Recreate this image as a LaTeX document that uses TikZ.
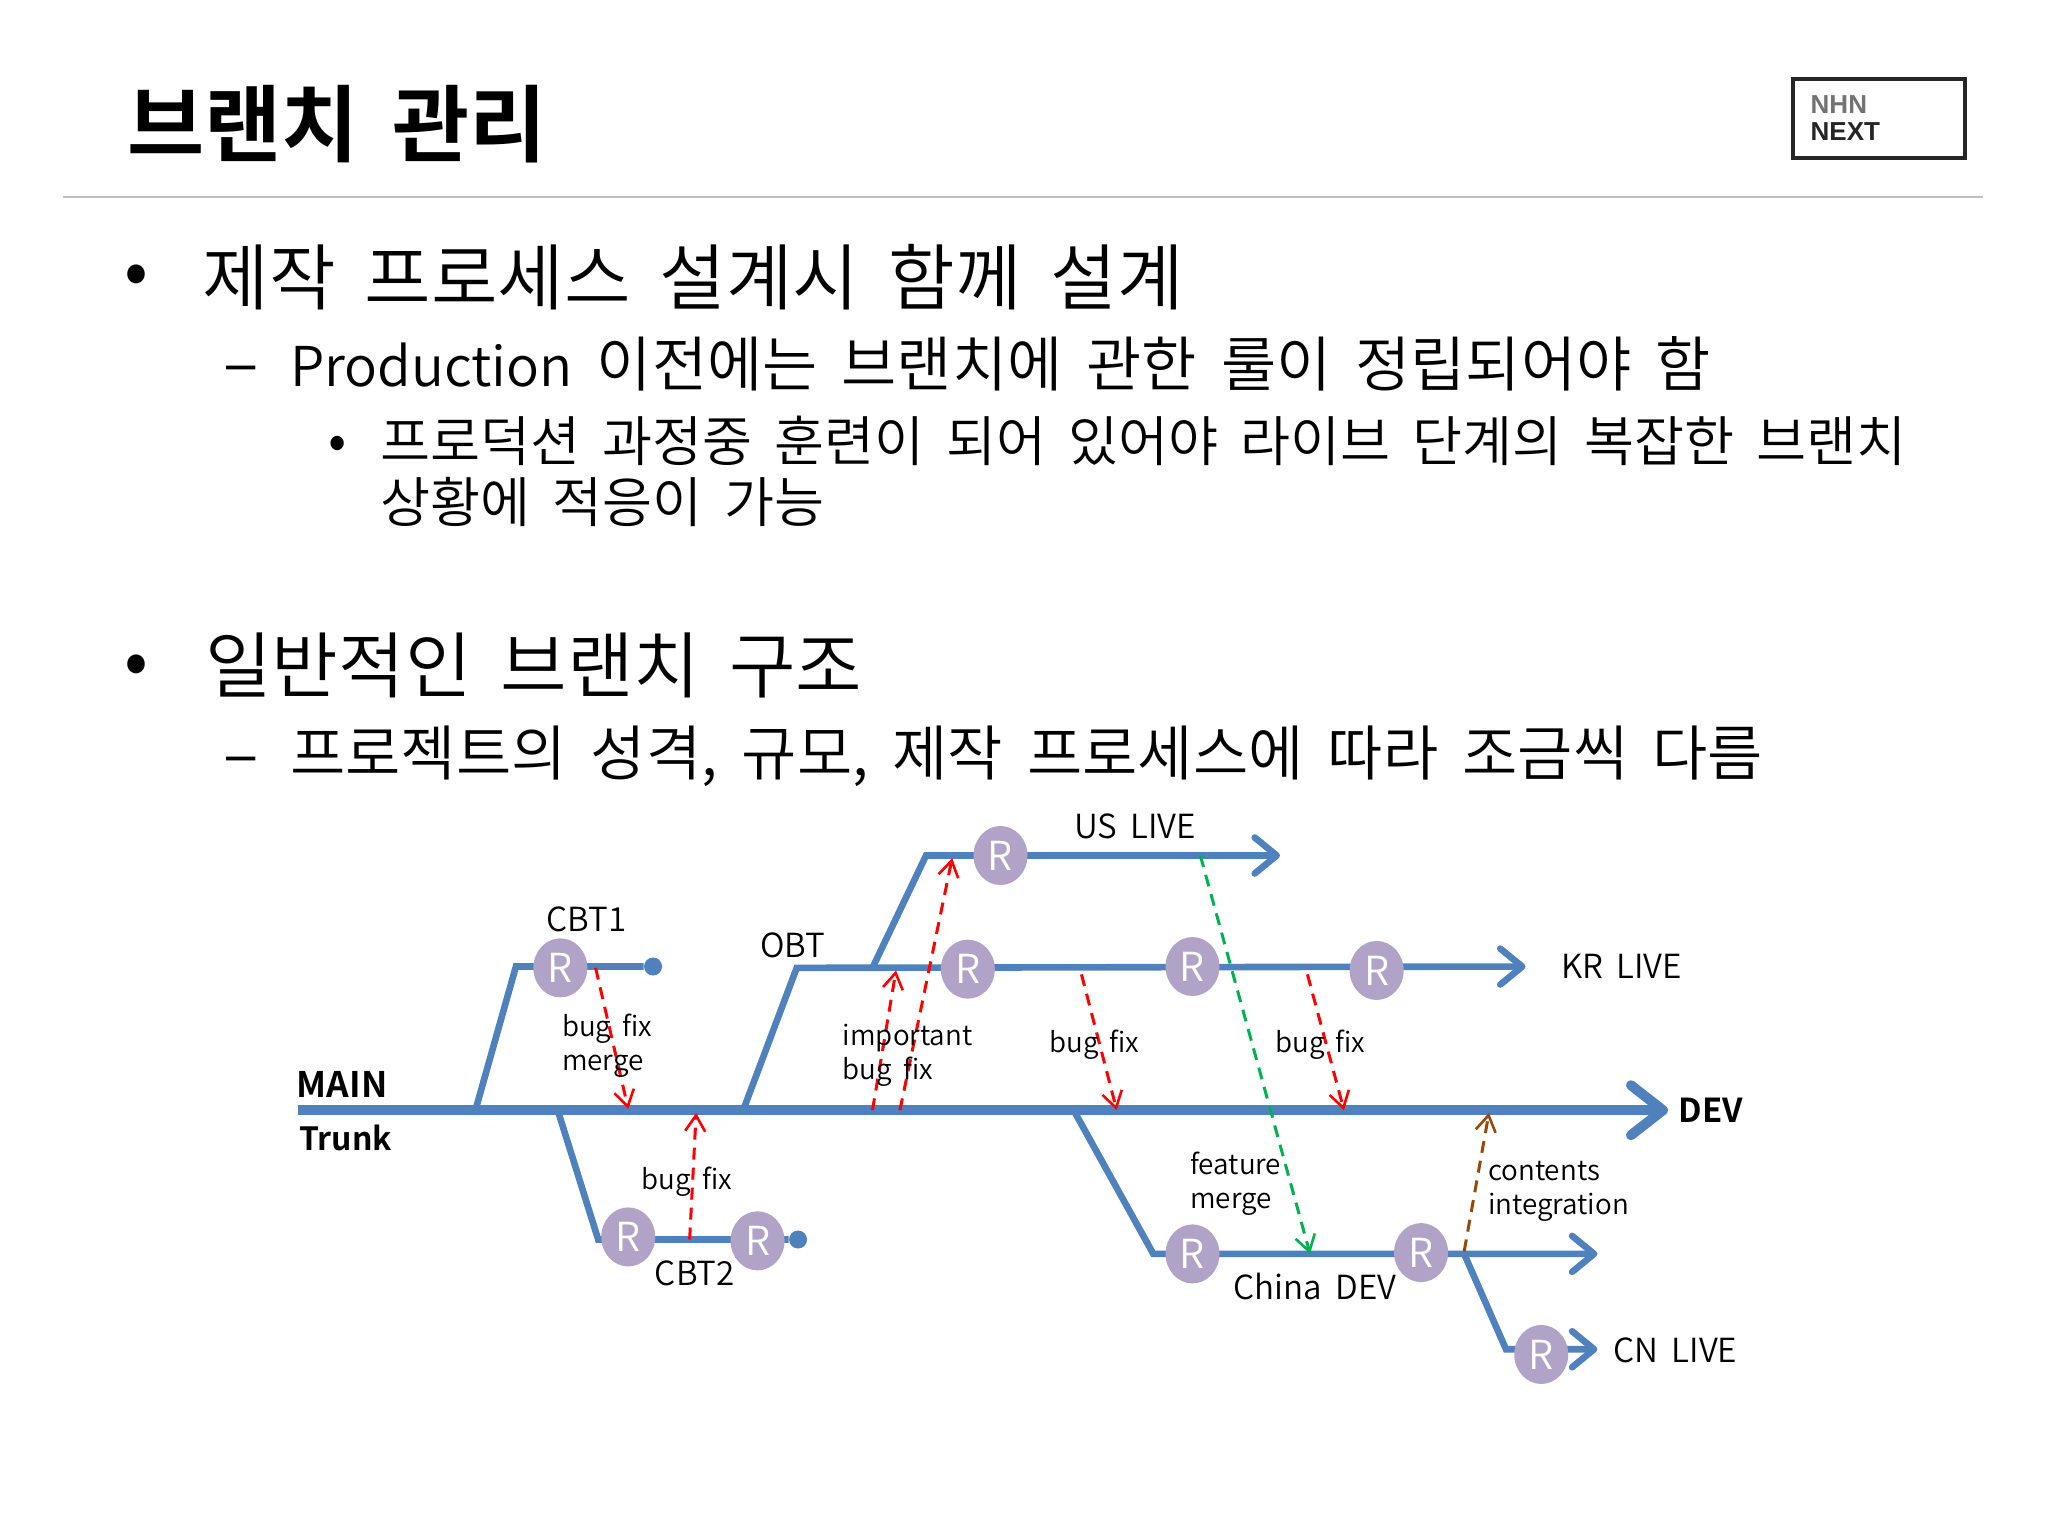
\documentclass[tikz,border=0pt]{standalone}
\usepackage{fontspec}
\setmainfont{Noto Sans CJK KR DemiLight}[BoldFont={Noto Sans CJK KR Bold},WordSpace=1.8]
\newfontfamily\logofont{Liberation Sans}
\usetikzlibrary{arrows.meta,shapes.geometric,backgrounds}
\definecolor{branchblue}{HTML}{4F81BD}
\definecolor{relpurple}{HTML}{B1A3C7}
\definecolor{fixred}{HTML}{FF0000}
\definecolor{featgreen}{HTML}{00B050}
\definecolor{contbrown}{HTML}{984807}
\newcommand{\fs}[1]{\fontsize{#1}{#1}\selectfont}
\begin{document}
\begin{tikzpicture}[x=0.65306pt,y=-0.65306pt]
\tikzset{
	release/.style={ellipse,fill=relpurple,text=white,minimum width=27pt,minimum height=29.5pt,inner sep=0pt,font=\fs{20}},
	endpoint/.style={circle,fill=branchblue,minimum size=9pt,inner sep=0pt},
	trunkline/.style={draw=branchblue,line width=5pt},
	branch/.style={draw=branchblue,line width=3.3pt},
	branchend/.style={branch,-{Straight Barb[length=11pt,width=18pt,line width=3.3pt,round]}},
	merge/.style={line width=1.5pt,dash pattern=on 6pt off 4pt,-{Straight Barb[length=8pt,width=10pt,line width=1.3pt]}},
	branchname/.style={inner sep=0pt,font=\fs{16.6}},
	note/.style={inner sep=0pt,align=left,anchor=west,font=\fontsize{13.9}{17}\selectfont},
	tag/.style={inner sep=0pt,anchor=west,font=\fs{16.5}\bfseries},
	body/.style={inner sep=0pt,anchor=base west}
}
\useasboundingbox (0,0) rectangle (1568,1176);

\node[body,font=\fs{41.9}\bfseries] (title) at (97,119) {브랜치 관리};
\coordinate (ruleL) at (48,151);
\coordinate (ruleR) at (1518,151);
\draw[black!25,line width=1pt] (ruleL) -- (ruleR);
\node[draw=black!85,line width=2pt,minimum width=86pt,minimum height=39.5pt] (logo) at (1438.5,90.5) {};
\node[inner sep=0pt,anchor=west,font=\logofont\fs{13}\bfseries,text=black!55] (nhn) at (1386,80) {NHN};
\node[inner sep=0pt,anchor=west,font=\logofont\fs{13}\bfseries,text=black!85] (next) at (1386,101) {NEXT};

\node[body,font=\fs{36}] (bulA) at (95,226) {•};
\node[body,font=\fs{36.15}] (itemA) at (155,233) {제작 프로세스 설계시 함께 설계};
\node[body,font=\fs{33}] (dashA) at (171,296) {–};
\node[body,font=\fs{30}] (itemB) at (222,296) {{\fs{27.4}Production} 이전에는 브랜치에 관한 룰이 정립되어야 함};
\node[body,font=\fs{27.3}] (bulB) at (251,352) {•};
\node[body,font=\fs{27.2}] (itemC) at (291,353) {프로덕션 과정중 훈련이 되어 있어야 라이브 단계의 복잡한 브랜치};
\node[body,font=\fs{27.2}] (itemD) at (291,400) {상황에 적응이 가능};
\node[body,font=\fs{36}] (bulC) at (95,525) {•};
\node[body,font=\fs{36.15}] (itemE) at (157,530) {일반적인 브랜치 구조};
\node[body,font=\fs{33}] (dashB) at (171,595) {–};
\node[body,font=\fs{30.05}] (itemF) at (222,594) {프로젝트의 성격, 규모, 제작 프로세스에 따라 조금씩 다름};

\coordinate (mainL) at (228,850);
\coordinate (mainR) at (1277,850);
\coordinate (cbtaS) at (364,850);
\coordinate (cbtaB) at (395,740);
\coordinate (cbtbS) at (427,850);
\coordinate (cbtbB) at (458,949);
\coordinate (obtS) at (569,850);
\coordinate (obtB) at (610,741);
\coordinate (krR) at (1168,740);
\coordinate (usS) at (668,741);
\coordinate (usB) at (709,655);
\coordinate (usR) at (980,655);
\coordinate (chinaS) at (822,850);
\coordinate (chinaB) at (883,960);
\coordinate (chinaR) at (1223,960);
\coordinate (cnS) at (1121,960);
\coordinate (cnB) at (1153,1033);
\coordinate (cnR) at (1223,1033);

\node[release] (rCbtA) at (429,741) {R};
\node[release] (rCbtB) at (481,947) {R};
\node[release] (rCbtC) at (580,950) {R};
\node[release] (rUs) at (766,655) {R};
\node[release] (rKrA) at (741,742) {R};
\node[release] (rKrB) at (913,740) {R};
\node[release] (rKrC) at (1054,743) {R};
\node[release] (rChA) at (913,960) {R};
\node[release] (rChB) at (1088,959) {R};
\node[release] (rCn) at (1180,1037) {R};
\node[endpoint] (dotA) at (500,740) {};
\node[endpoint] (dotB) at (611,949) {};

\begin{scope}[on background layer]
\fill[white] (0,0) rectangle (1568,1176);
\draw[trunkline,-{Straight Barb[length=16pt,width=25pt,line width=5pt,round]}] (mainL) -- (mainR);
\draw[branch] (cbtaS) -- (cbtaB) -- (dotA);
\draw[branch] (cbtbS) -- (cbtbB) -- (dotB);
\draw[branchend] (obtS) -- (obtB) -- (krR);
\draw[branchend] (usS) -- (usB) -- (usR);
\draw[branchend] (chinaS) -- (chinaB) -- (chinaR);
\draw[branchend] (cnS) -- (cnB) -- (cnR);
\end{scope}

\coordinate (fixAs) at (456,741);
\coordinate (fixAe) at (481,849);
\coordinate (fixBs) at (528,949);
\coordinate (fixBe) at (533,852);
\coordinate (fixCs) at (668,850);
\coordinate (fixCe) at (686,743);
\coordinate (fixDs) at (689,850);
\coordinate (fixDe) at (729,657);
\coordinate (fixEs) at (828,746);
\coordinate (fixEe) at (855,850);
\coordinate (fixFs) at (1001,746);
\coordinate (fixFe) at (1029,850);
\coordinate (featS) at (919,655);
\coordinate (featE) at (1003,960);
\coordinate (contS) at (1121,958);
\coordinate (contE) at (1140,852);
\draw[merge,fixred] (fixAs) -- (fixAe);
\draw[merge,fixred] (fixBs) -- (fixBe);
\draw[merge,fixred] (fixCs) -- (fixCe);
\draw[merge,fixred] (fixDs) -- (fixDe);
\draw[merge,fixred] (fixEs) -- (fixEe);
\draw[merge,fixred] (fixFs) -- (fixFe);
\draw[merge,featgreen] (featS) -- (featE);
\draw[merge,contbrown] (contS) -- (contE);

\node[branchname] (cbt1) at (449,704) {CBT1};
\node[branchname] (cbt2) at (532,975) {CBT2};
\node[branchname] (obt) at (607,724) {OBT};
\node[branchname] (uslive) at (869,633) {US LIVE};
\node[branchname,anchor=west] (krlive) at (1195,740) {KR LIVE};
\node[branchname] (chinadev) at (1007,985) {China DEV};
\node[branchname,anchor=west] (cnlive) at (1235,1034) {CN LIVE};
\node[tag,font=\fs{17.6}\bfseries] (main) at (227,830) {MAIN};
\node[tag,font=\fs{16}\bfseries] (trunk) at (229,871) {Trunk};
\node[tag] (dev) at (1285,850) {DEV};
\node[note] (noteA) at (430,801) {bug fix\\merge};
\node[note] (noteB) at (491,905) {bug fix};
\node[note] (noteC) at (645,808) {important\\bug fix};
\node[note] (noteD) at (803,800) {bug fix};
\node[note] (noteE) at (976,800) {bug fix};
\node[note] (noteF) at (911,906) {feature\\merge};
\node[note] (noteG) at (1139,912) {contents\\integration};
\end{tikzpicture}
\end{document}
